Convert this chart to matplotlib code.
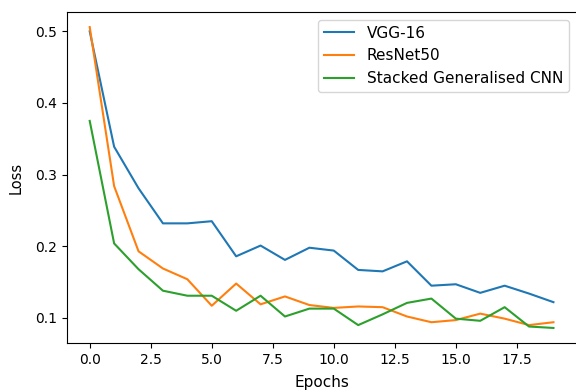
import matplotlib
matplotlib.use("Agg")
import matplotlib.pyplot as plt

epochs = list(range(20))

vgg16 = [0.500, 0.339, 0.281, 0.232, 0.232, 0.235, 0.186, 0.201, 0.181, 0.198,
         0.194, 0.167, 0.165, 0.179, 0.145, 0.147, 0.135, 0.145, 0.134, 0.122]
resnet50 = [0.506, 0.284, 0.193, 0.169, 0.154, 0.117, 0.148, 0.119, 0.130, 0.118,
            0.114, 0.116, 0.115, 0.102, 0.094, 0.097, 0.106, 0.099, 0.090, 0.094]
stacked_cnn = [0.375, 0.204, 0.168, 0.138, 0.131, 0.131, 0.110, 0.131, 0.102, 0.113,
               0.113, 0.090, 0.105, 0.121, 0.127, 0.099, 0.096, 0.115, 0.088, 0.086]

fig = plt.figure(figsize=(5.76, 3.9), dpi=100)
ax = fig.add_axes([0.1155, 0.1205, 0.8856, 0.8487])

ax.plot(epochs, vgg16, label='VGG-16')
ax.plot(epochs, resnet50, label='ResNet50')
ax.plot(epochs, stacked_cnn, label='Stacked Generalised CNN')

ax.set_xlabel('Epochs', fontsize=11, labelpad=6)
ax.set_ylabel('Loss', fontsize=10.5, labelpad=8)
ax.legend(loc='upper right', fontsize=11)

fig.savefig("out.png", dpi=100)
